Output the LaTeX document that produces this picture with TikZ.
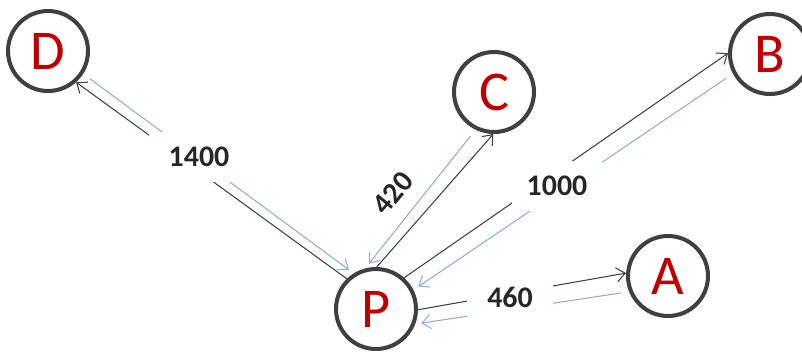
\documentclass[tikz,border=0pt]{standalone}
\usepackage{fontspec}
\setmainfont{Carlito}
\usetikzlibrary{arrows.meta}

\definecolor{ringgray}{HTML}{404040}
\definecolor{cityred}{HTML}{C00000}
\definecolor{backblue}{HTML}{8FAADC}

\begin{document}
\begin{tikzpicture}[x=0.02cm, y=-0.02cm,
    city/.style={circle, draw=ringgray, line width=2.3pt, fill=white,
                 minimum size=1.6cm, inner sep=0pt, text=cityred,
                 font=\fontsize{32}{32}\selectfont},
    goto/.style={-{Straight Barb[length=5pt,width=8pt]}, line width=0.6pt, black!75},
    comeback/.style={goto, backblue, shorten <=0.16cm, shorten >=0.12cm},
    dist/.style={fill=white, inner xsep=0.4cm, inner ysep=0.3cm, text=black!85,
                 font=\bfseries\fontsize{17}{17}\selectfont}]
    \useasboundingbox (0,0) rectangle (802,356);
    \node[city] (P) at (376,309) {P};
    \node[city] (A) at (668,276) {A};
    \node[city] (B) at (770,54) {B};
    \node[city] (C) at (494,92) {C};
    \node[city] (D) at (48,51) {D};
    % out from P in black, back to P in blue
    \foreach \t/\pa/\ta/\tb/\pb in {D/134/312/327/122, C/89/269/244/105,
                                     B/48/179/208/27, A/359/176/202/339} {
      \draw[goto] (P.\pa) -- (\t.\ta);
      \draw[comeback] (\t.\tb) -- (P.\pb);
    }
    \node[dist] (d1400) at (199,157) {1400};
    \node[dist, fill=none, inner sep=0pt, rotate=50] (d420) at (393,193) {420};
    \node[dist, inner xsep=0.3cm] (d1000) at (557,186) {1000};
    \node[dist] (d460) at (510,297) {460};
\end{tikzpicture}
\end{document}
